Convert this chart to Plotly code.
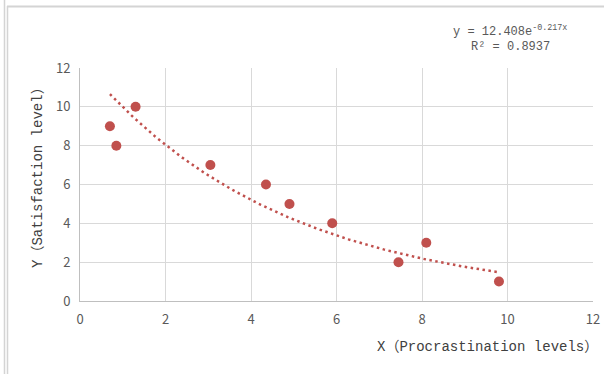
import numpy as np
import plotly.graph_objects as go

# Data
x_values = [0.7, 0.85, 1.3, 3.05, 4.35, 4.9, 5.9, 7.45, 8.1, 9.8]
y_values = [9, 8, 10, 7, 6, 5, 4, 2, 3, 1]

# Trendline coefficients as shown in the chart label
trend_a = 12.408
trend_b = -0.217
r_squared = 0.8937

x_ticks = [0, 2, 4, 6, 8, 10, 12]
y_ticks = [0, 2, 4, 6, 8, 10, 12]

W, H = 604, 374
ML, MR, MT, MB = 80, 11, 68, 73
PW, PH = W - ML - MR, H - MT - MB


def px(xp):
    return (xp - ML) / PW


def py(yp):
    return (H - MB - yp) / PH


red = "#c0504d"

trend_x = np.linspace(min(x_values), max(x_values), 200)
trend_y = trend_a * np.exp(trend_b * trend_x)

fig = go.Figure()
fig.add_trace(go.Scatter(
    x=trend_x, y=trend_y, mode="lines",
    line=dict(color=red, width=2.5, dash="2.5px,3.5px"),
    hoverinfo="skip", showlegend=False,
))
fig.add_trace(go.Scatter(
    x=x_values, y=y_values, mode="markers",
    marker=dict(color=red, size=10, line=dict(width=0)),
    showlegend=False,
))

axis_common = dict(
    showgrid=True, gridcolor="#d9d9d9", gridwidth=1,
    zeroline=False, showline=True, linecolor="#bfbfbf", linewidth=1,
    ticks="", tickfont=dict(family="Noto Sans CJK SC, Open Sans, sans-serif", size=13, color="#595959"),
    fixedrange=True, automargin=False,
)
fig.update_xaxes(range=[0, 12], tickvals=x_ticks, ticklabelstandoff=6, **axis_common)
fig.update_yaxes(range=[0, 12], tickvals=y_ticks, ticklabelstandoff=6, **axis_common)

title_font = dict(family="Liberation Mono, Noto Sans CJK SC, monospace", size=14, color="#404040")
ann_font = dict(family="Liberation Mono, Noto Sans CJK SC, monospace", size=12, color="#595959")

annotations = [
    dict(text="X（Procrastination levels）", xref="paper", yref="paper",
         x=px(600), y=py(347), xanchor="right", yanchor="middle",
         showarrow=False, font=title_font),
    dict(text="Y（Satisfaction level）", xref="paper", yref="paper",
         x=px(38), y=py(174), xanchor="center", yanchor="middle", textangle=-90,
         showarrow=False, font=title_font),
    dict(text=f"y = {trend_a}e<sup>{trend_b}x</sup>", xref="paper", yref="paper",
         x=px(510), y=py(31), xanchor="center", yanchor="middle",
         showarrow=False, font=ann_font),
    dict(text=f"R² = {r_squared}", xref="paper", yref="paper",
         x=px(510), y=py(47), xanchor="center", yanchor="middle",
         showarrow=False, font=ann_font),
]

frame_col = "#d4d4d4"
shapes = [
    dict(type="line", xref="paper", yref="paper", x0=px(4.5), x1=px(4.5), y0=py(0), y1=py(H),
         line=dict(color=frame_col, width=1.5)),
    dict(type="line", xref="paper", yref="paper", x0=px(7.5), x1=px(7.5), y0=py(6), y1=py(H),
         line=dict(color=frame_col, width=1.5)),
    dict(type="line", xref="paper", yref="paper", x0=px(7), x1=px(W), y0=py(6.5), y1=py(6.5),
         line=dict(color=frame_col, width=2)),
]

fig.update_layout(
    width=W, height=H,
    margin=dict(l=ML, r=MR, t=MT, b=MB),
    paper_bgcolor="white", plot_bgcolor="white",
    annotations=annotations, shapes=shapes,
    showlegend=False,
)

fig.write_html(
    "out.html",
    config={"displayModeBar": False},
    post_script="document.body.style.margin='0';document.body.style.padding='0';",
)
